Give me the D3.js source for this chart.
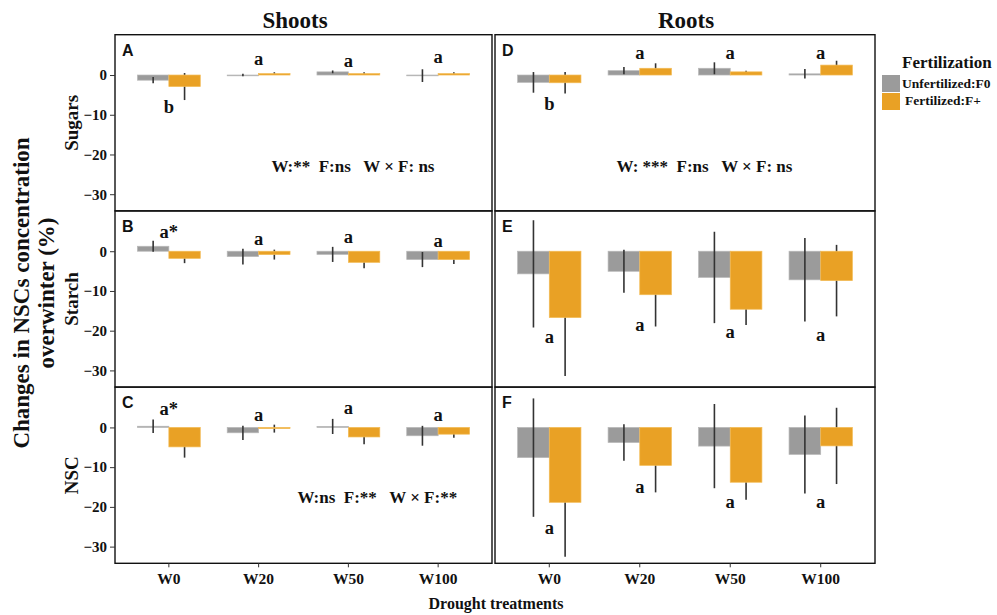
<!DOCTYPE html>
<html><head><meta charset="utf-8">
<script src="https://cdn.jsdelivr.net/npm/d3@7"></script>
<style>
body{margin:0;background:#fff;}
svg text{font-family:"Liberation Serif","Times New Roman",serif;font-weight:bold;fill:#111;}
</style></head>
<body><svg id="chart" width="997" height="615"></svg>
<script>
// ---------- data ----------
const categories = ["W0","W20","W50","W100"];
const seriesNames = ["Unfertilized:F0","Fertilized:F+"];
const tickValues = [0,-10,-20,-30];
const columnTitles = ["Shoots","Roots"];
const rowTitles = ["Sugars","Starch","NSC"];
const panelTags = ["A","B","C","D","E","F"];

// Shoots
const sugarsShootF0 = [-1.3, 0.0, 0.8, -0.15];
const sugarsShootF0se = [0.8, 0.3, 0.35, 1.6];
const sugarsShootFp = [-2.9, 0.35, 0.35, 0.35];
const sugarsShootFpse = [3.4, 0.35, 0.35, 0.35];
const starchShootF0 = [1.25, -1.35, -0.8, -2.1];
const starchShootF0se = [1.4, 2.0, 1.9, 1.9];
const starchShootFp = [-1.8, -0.85, -2.8, -2.1];
const starchShootFpse = [1.2, 1.25, 1.5, 1.1];
const nscShootF0 = [0.3, -1.35, 0.25, -2.1];
const nscShootF0se = [1.7, 1.8, 1.9, 2.5];
const nscShootFp = [-4.9, -0.3, -2.4, -1.7];
const nscShootFpse = [2.7, 1.0, 1.85, 0.9];
// Roots
const sugarsRootF0 = [-1.85, 1.1, 1.7, 0.3];
const sugarsRootF0se = [2.6, 0.9, 1.5, 1.2];
const sugarsRootFp = [-1.95, 1.7, 0.8, 2.5];
const sugarsRootFpse = [2.7, 1.25, 0.25, 1.1];
const starchRootF0 = [-5.7, -5.05, -6.6, -7.2];
const starchRootF0se = [13.5, 5.4, 11.5, 10.5];
const starchRootFp = [-16.7, -10.95, -14.6, -7.4];
const starchRootFpse = [14.7, 8.0, 4.0, 9.0];
const nscRootF0 = [-7.6, -3.8, -4.7, -6.8];
const nscRootF0se = [14.9, 4.6, 10.6, 9.8];
const nscRootFp = [-18.85, -9.55, -13.8, -4.65];
const nscRootFpse = [13.7, 6.8, 4.4, 9.6];

// significance letters and their anchor value (data units)
const lettersSugarsShoot = ["b","a","a","a"];
const letterYSugarsShoot = [-9.65, 2.5, 2.1, 3.1];
const lettersStarchShoot = ["a*","a","a","a"];
const letterYStarchShoot = [3.4, 1.45, 2.1, 1.0];
const lettersNscShoot = ["a*","a","a","a"];
const letterYNscShoot = [3.1, 1.65, 3.3, 1.65];
const lettersSugarsRoot = ["b","a","a","a"];
const letterYSugarsRoot = [-8.8, 3.95, 3.95, 3.95];
const lettersStarchRoot = ["a","a","a","a"];
const letterYStarchRoot = [-23.1, -20.2, -21.9, -22.5];
const lettersNscRoot = ["a","a","a","a"];
const letterYNscRoot = [-26.7, -16.5, -20.2, -20.2];

// ANOVA annotations
const statTexts = ["W:**  F:ns   W × F: ns", null, "W:ns  F:**   W × F:**", "W: ***  F:ns   W × F: ns", null, null];
const statY = [-24.4, null, -19.0, -24.4, null, null];

// ---------- layout ----------
const colors = ["#9b9b9b", "#e9a125"];
const strokes = ["#b8b8b8", "#f3bb55"];
const cols = [[115, 492], [495, 875]];
const rowTop = [34.7, 210.9, 387.1];
const panelH = 176.2;
const statX = [0.415, 0, 0.484, 0.32, 0, 0];

const panels = [
  {f0: sugarsShootF0, f0se: sugarsShootF0se, fp: sugarsShootFp, fpse: sugarsShootFpse, L: lettersSugarsShoot, LY: letterYSugarsShoot},
  {f0: starchShootF0, f0se: starchShootF0se, fp: starchShootFp, fpse: starchShootFpse, L: lettersStarchShoot, LY: letterYStarchShoot},
  {f0: nscShootF0, f0se: nscShootF0se, fp: nscShootFp, fpse: nscShootFpse, L: lettersNscShoot, LY: letterYNscShoot},
  {f0: sugarsRootF0, f0se: sugarsRootF0se, fp: sugarsRootFp, fpse: sugarsRootFpse, L: lettersSugarsRoot, LY: letterYSugarsRoot},
  {f0: starchRootF0, f0se: starchRootF0se, fp: starchRootFp, fpse: starchRootFpse, L: lettersStarchRoot, LY: letterYStarchRoot},
  {f0: nscRootF0, f0se: nscRootF0se, fp: nscRootFp, fpse: nscRootFpse, L: lettersNscRoot, LY: letterYNscRoot}
];

const svg = d3.select("#chart");
svg.append("rect").attr("width",997).attr("height",615).attr("fill","#fff");

panels.forEach((p, i) => {
  const c = Math.floor(i / 3), r = i % 3;
  const [x0, x1] = cols[c];
  const top = rowTop[r];
  const g = svg.append("g");
  const x = d3.scaleBand().domain(categories).range([x0, x1]).paddingInner(0.3).paddingOuter(0.25);
  const xs = d3.scaleBand().domain([0,1]).range([0, x.bandwidth()]);
  const y = d3.scaleLinear().domain([-34.2, 10.15]).range([top + panelH, top]);

  const rows = categories.map((cat, k) => ({cat, k,
    vals: [{s:0, v:p.f0[k], e:p.f0se[k]}, {s:1, v:p.fp[k], e:p.fpse[k]}]}));

  const barsFor = (s) => {
    g.selectAll(null).data(rows).enter().append("rect")
      .attr("x", d => x(d.cat) + xs(s))
      .attr("width", xs.bandwidth())
      .attr("y", d => y(Math.max(0, d.vals[s].v)))
      .attr("height", d => Math.max(0.8, Math.abs(y(d.vals[s].v) - y(0))))
      .attr("fill", colors[s]).attr("stroke", strokes[s]).attr("stroke-width", 0.7);
  };
  barsFor(0);
  // error bars
  rows.forEach(d => d.vals.forEach(v => {
    g.append("line")
      .attr("x1", x(d.cat) + xs(v.s) + xs.bandwidth()/2)
      .attr("x2", x(d.cat) + xs(v.s) + xs.bandwidth()/2)
      .attr("y1", y(v.v + v.e)).attr("y2", y(v.v - v.e))
      .attr("stroke", "#333").attr("stroke-width", 1.6);
  }));
  barsFor(1);

  // letters
  g.selectAll(null).data(rows).enter().append("text")
    .attr("x", d => x(d.cat) + x.bandwidth()/2)
    .attr("y", d => y(p.LY[d.k]))
    .attr("text-anchor", "middle").style("font-size", "18.5px")
    .text(d => p.L[d.k]);

  if (statTexts[i]) {
    g.append("text").attr("x", x0 + statX[i] * (x1 - x0)).attr("y", y(statY[i]))
      .style("font-size", "17px").style("white-space", "pre").attr("xml:space","preserve")
      .text(statTexts[i]);
  }

  // panel tag
  g.append("text").attr("x", x0 + 7).attr("y", top + 21)
    .style("font-family", "'Liberation Sans',Arial,sans-serif").style("font-size", "16px")
    .text(panelTags[i]);

  // border
  g.append("rect").attr("x", x0).attr("y", top).attr("width", x1 - x0).attr("height", panelH)
    .attr("fill", "none").attr("stroke", "#111").attr("stroke-width", 1.4);

  // y axis on left column
  if (c === 0) {
    const ax = svg.append("g").attr("transform", `translate(${x0},0)`)
      .call(d3.axisLeft(y).tickValues(tickValues).tickSize(5).tickPadding(3).tickFormat(d3.format("d")));
    ax.select(".domain").remove();
    ax.selectAll("line").attr("stroke", "#333");
    ax.selectAll("text").style("font-size", "15px").style("font-family", "'Liberation Serif',serif").style("font-weight","bold").attr("fill", "#222");
    svg.append("text").attr("transform", `translate(78,${top + panelH/2}) rotate(-90)`)
      .attr("text-anchor", "middle").style("font-size", "19px").text(rowTitles[r]);
  }
  // x axis on bottom row
  if (r === 2) {
    const ax = svg.append("g").attr("transform", `translate(0,${top + panelH})`)
      .call(d3.axisBottom(x).tickSize(4).tickPadding(6));
    ax.select(".domain").remove();
    ax.selectAll("line").attr("stroke", "#333");
    ax.selectAll("text").style("font-size", "15.5px").style("font-family", "'Liberation Serif',serif").style("font-weight","bold").attr("fill", "#222");
  }
  if (r === 0) {
    svg.append("text").attr("x", c === 0 ? 295 : 686).attr("y", 28)
      .attr("text-anchor", "middle").style("font-size", "23px").text(columnTitles[c]);
  }
});

// axis titles
svg.append("text").attr("transform", "translate(29,293) rotate(-90)")
  .attr("text-anchor", "middle").style("font-size", "23px").text("Changes in NSCs concentration");
svg.append("text").attr("transform", "translate(54,293) rotate(-90)")
  .attr("text-anchor", "middle").style("font-size", "23px").text("overwinter (%)");
svg.append("text").attr("x", 496).attr("y", 609)
  .attr("text-anchor", "middle").style("font-size", "16px").text("Drought treatments");

// legend
const lg = svg.append("g");
lg.append("text").attr("x", 902).attr("y", 68).style("font-size", "17px").text("Fertilization");
seriesNames.forEach((s, i) => {
  lg.append("rect").attr("x", 882).attr("y", 75 + i * 18).attr("width", 18).attr("height", 17)
    .attr("fill", colors[i]);
  lg.append("text").attr("x", i === 0 ? 902 : 905).attr("y", 88 + i * 17).style("font-size", "13.5px").text(s);
});
</script></body></html>
